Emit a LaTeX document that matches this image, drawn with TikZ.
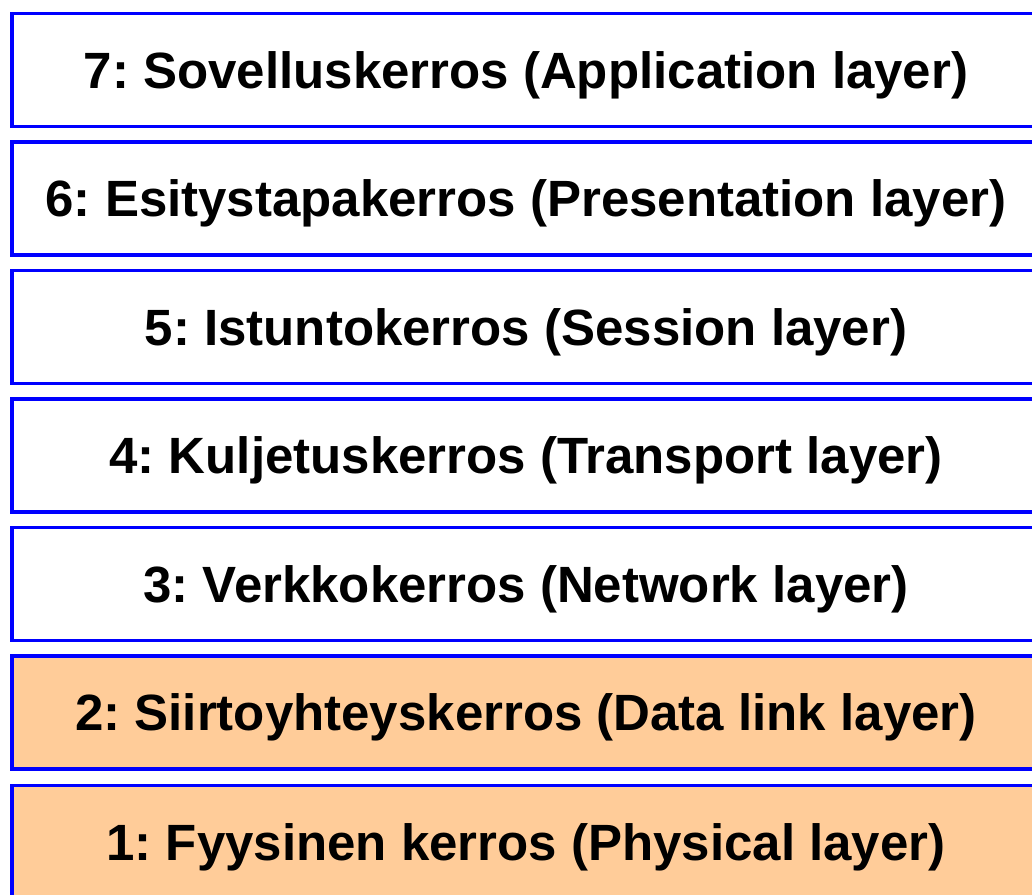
\documentclass[tikz,border=0pt]{standalone}
\usepackage{fontspec}
\setmainfont{Liberation Sans}
\definecolor{layerblue}{HTML}{0000FF}
\definecolor{layerpeach}{HTML}{FFCC99}
\begin{document}
\frenchspacing
\begin{tikzpicture}[x=1pt,y=-1pt,
  layer/.style={draw=layerblue, line width=3.8pt, fill=white, rectangle,
    minimum width=1028pt, minimum height=113pt, inner sep=0pt,
    text height=36pt, text depth=0pt,
    font=\fontsize{51}{60}\selectfont\bfseries},
  lower/.style={layer, fill=layerpeach}]
  \useasboundingbox (0,0) rectangle (1032,894);
  \clip (0,0) rectangle (1032,894);
  \node[layer] (l7) at (526,70)    {7: Sovelluskerros (Application layer)};
  \node[layer] (l6) at (526,198.5) {6: Esitystapakerros (Presentation layer)};
  \node[layer] (l5) at (526,327)   {5: Istuntokerros (Session layer)};
  \node[layer] (l4) at (526,455.5) {4: Kuljetuskerros (Transport layer)};
  \node[layer] (l3) at (526,584)   {3: Verkkokerros (Network layer)};
  \node[lower] (l2) at (526,712.5) {2: Siirtoyhteyskerros (Data link layer)};
  \node[lower] (l1) at (526,842)   {1: Fyysinen kerros (Physical layer)};
\end{tikzpicture}
\end{document}
